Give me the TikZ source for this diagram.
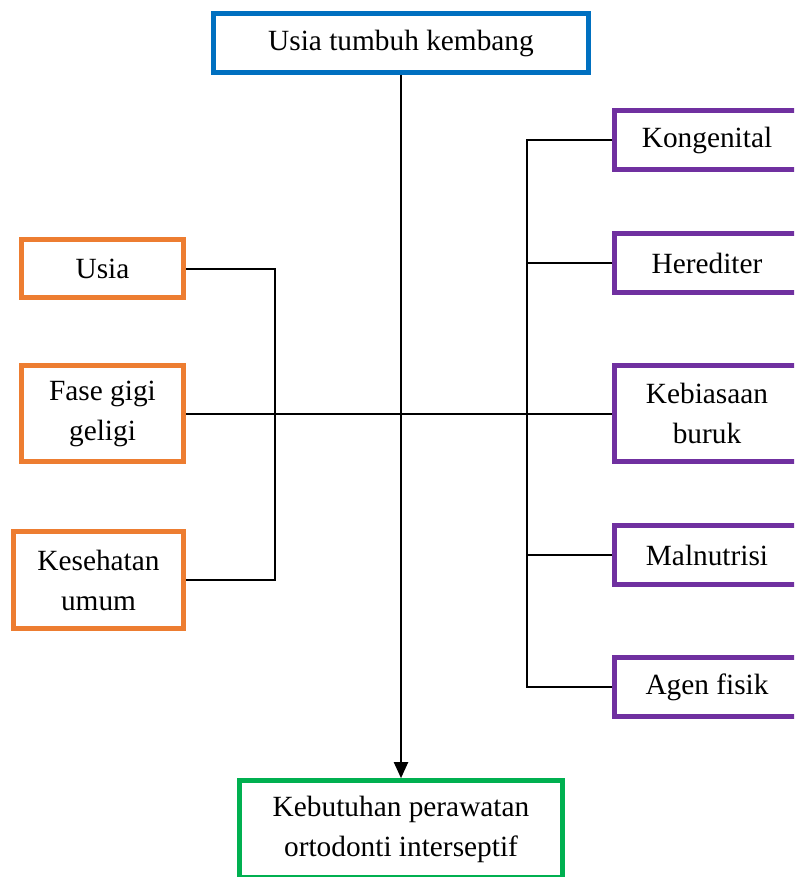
\documentclass[tikz,border=0pt]{standalone}
\usepackage{fontspec}
\setmainfont{LiberationSerif}[Extension=.ttf,UprightFont=*-Regular,BoldFont=*-Bold]
\usetikzlibrary{arrows.meta}
\definecolor{topblue}{HTML}{0070C0}
\definecolor{leftorange}{HTML}{ED7D31}
\definecolor{rightpurple}{HTML}{7030A0}
\definecolor{endgreen}{HTML}{00B050}

\begin{document}
\begin{tikzpicture}[x=0.75pt, y=-0.75pt,
every node/.style={rectangle,draw,line width=3.75pt,fill=white,align=center,
  font=\fontsize{22}{30}\selectfont,inner sep=0pt},
link/.style={black,line width=1.5pt},
faktor/.style={draw=leftorange,minimum width=121.5pt},
sebab/.style={draw=rightpurple,minimum width=138.75pt},
one line/.style={minimum height=44.25pt},
two line/.style={minimum height=72.5pt}]
\useasboundingbox (0,0) rectangle (794,877);
\clip (0,0) rectangle (794,877);
\node[draw=topblue,minimum width=281.25pt,one line] (usiatk) at (401,43) {Usia tumbuh kembang};
\node[faktor,minimum height=43.5pt] (usia) at (102.5,268.5) {Usia};
\node[faktor,two line] (fase) at (102.5,413.5) {Fase gigi\\geligi};
\node[faktor,minimum width=127.5pt,two line] (sehat) at (98.5,580) {Kesehatan\\umum};
\node[sebab,one line] (kong) at (707,140) {Kongenital};
\node[sebab,one line] (hered) at (707,263) {Herediter};
\node[sebab,two line] (kebias) at (707,413.5) {Kebiasaan\\buruk};
\node[sebab,one line] (malnut) at (707,555) {Malnutrisi};
\node[sebab,one line] (agen) at (707,687) {Agen fisik};
\node[draw=endgreen,minimum width=242.25pt,two line] (butuh) at (401,829) {Kebutuhan perawatan\\ortodonti interseptif};
\coordinate (kiri) at (275,413.5);
\coordinate (kanan) at (527,413.5);
% left and right collectors
\draw[link] (usia.east) -| (kiri) |- (sehat.east);
\draw[link] (fase.east) -- (kebias.west);
\draw[link] (kong.west) -| (kanan) |- (agen.west);
\draw[link] (hered.west) -- (hered.west -| kanan);
\draw[link] (malnut.west) -- (malnut.west -| kanan);
\draw[link,-{Triangle[length=12pt,width=10.5pt]}] (usiatk.south) -- (butuh.north);
\end{tikzpicture}
\end{document}
